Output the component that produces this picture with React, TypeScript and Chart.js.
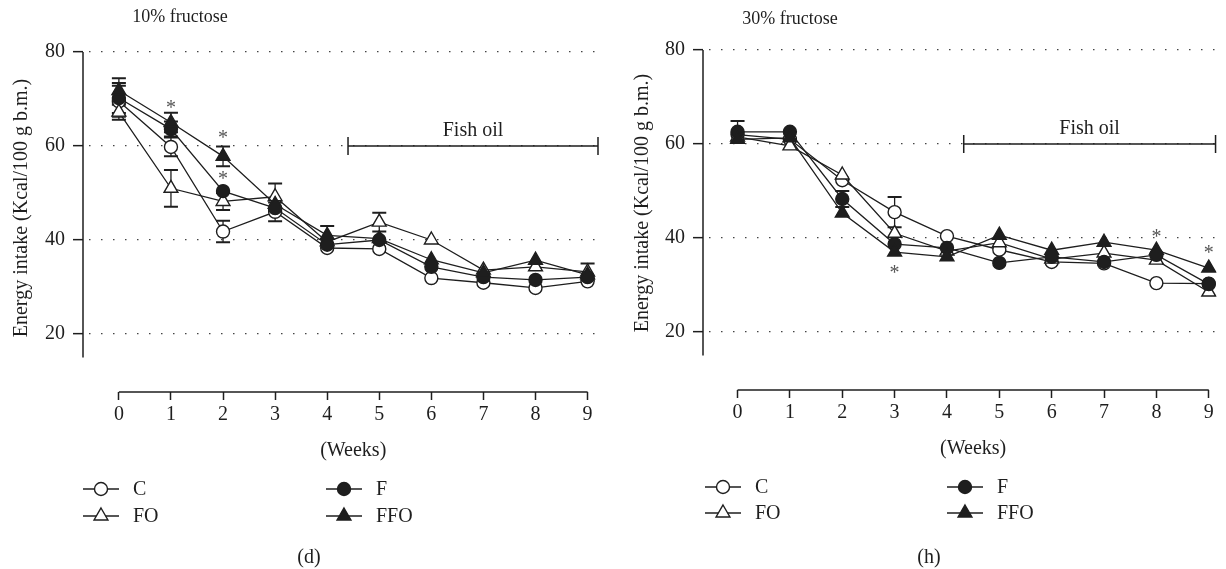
import React, { useEffect, useRef } from 'react';
import { Chart, registerables } from 'chart.js';

Chart.register(...registerables);

const FONT = '"Liberation Serif", "Times New Roman", serif';
const INK = '#1e1e1e';

// ---------- data ----------
const weeks = [0, 1, 2, 3, 4, 5, 6, 7, 8, 9];
const yTickValues = [20, 40, 60, 80];
const seriesLabels = ['C', 'FO', 'F', 'FFO'];

// (d) 10% fructose
const dC = [69.5, 59.8, 41.8, 46.0, 38.3, 38.1, 31.9, 30.9, 29.8, 31.2];
const dCErr = [3.3, 2.0, 2.3, 2.0, 0.8, 0.8, 0.6, 0.6, 0.6, 0.6];
const dFO = [67.2, 51.0, 48.2, 49.2, 39.6, 43.8, 40.0, 33.6, 34.3, 33.2];
const dFOErr = [1.6, 3.9, 1.8, 2.8, 1.0, 2.0, 1.5, 1.0, 1.0, 1.8];
const dF = [70.2, 63.6, 50.4, 46.8, 39.0, 40.0, 34.3, 32.1, 31.5, 32.1];
const dFErr = [3.2, 1.6, 1.5, 1.0, 0.8, 0.8, 0.8, 0.6, 0.6, 0.6];
const dFFO = [71.8, 65.0, 57.8, 47.6, 41.0, 40.3, 35.8, 33.0, 35.7, 32.6];
const dFFOErr = [2.6, 2.1, 2.1, 1.2, 2.0, 1.0, 1.0, 0.8, 0.8, 0.8];
const dStars = [[1, 69.1], [2, 62.8], [2, 54.0]];
const dFishOil = [4.4, 9.2];

// (h) 30% fructose
const hC = [62.0, 61.0, 52.3, 45.5, 40.4, 37.5, 34.9, 34.6, 30.4, 30.3];
const hCErr = [1.5, 1.0, 1.3, 3.2, 1.0, 1.0, 0.8, 0.8, 0.8, 0.8];
const hFO = [61.5, 59.6, 53.4, 41.0, 37.2, 39.0, 35.5, 36.8, 35.3, 28.5];
const hFOErr = [1.0, 1.0, 1.0, 1.3, 1.0, 1.0, 0.8, 0.8, 0.8, 0.8];
const hF = [62.6, 62.6, 48.3, 38.7, 37.9, 34.7, 36.0, 34.9, 36.4, 30.2];
const hFErr = [2.3, 1.0, 1.7, 1.0, 0.8, 0.8, 0.8, 0.8, 0.8, 0.8];
const hFFO = [61.0, 61.3, 45.3, 37.0, 36.0, 40.6, 37.4, 39.1, 37.4, 33.6];
const hFFOErr = [1.0, 1.0, 1.0, 1.0, 0.8, 0.8, 0.8, 0.8, 0.8, 0.8];
const hStars = [[3, 33.6], [8, 41.3], [9, 37.9]];
const hFishOil = [4.32, 9.13];

// ---------- styling ----------
const markerStyles = [
  { shape: 'circle', filled: false, order: 3 },
  { shape: 'triangle', filled: false, order: 2 },
  { shape: 'circle', filled: true, order: 1 },
  { shape: 'triangle', filled: true, order: 0 },
];

function drawMarker(ctx: CanvasRenderingContext2D, shape: string, filled: boolean, x: number, y: number) {
  ctx.beginPath();
  if (shape === 'circle') {
    ctx.arc(x, y, 6.5, 0, Math.PI * 2);
  } else {
    const r = 8;
    let a = 0;
    ctx.moveTo(x + Math.sin(a) * r, y - Math.cos(a) * r);
    a += (2 * Math.PI) / 3;
    ctx.lineTo(x + Math.sin(a) * r, y - Math.cos(a) * r);
    a += (2 * Math.PI) / 3;
    ctx.lineTo(x + Math.sin(a) * r, y - Math.cos(a) * r);
    ctx.closePath();
  }
  ctx.fillStyle = filled ? INK : '#ffffff';
  ctx.fill();
  ctx.lineWidth = 1.4;
  ctx.strokeStyle = INK;
  ctx.stroke();
}

type PanelDef = {
  title: string;
  letter: string;
  values: number[][];
  errors: number[][];
  stars: number[][];
  fishOil: number[];
  canvasLeft: number;
  canvasW: number;
  axisLeft: number;
  top: number;
  bottom: number;
  pxPerWeek: number;
  xmin: number;
  xmax: number;
  yAxisEnd: number;
  titleX: number;
  titleY: number;
  yTitleX: number;
  yTitleY: number;
  weeksY: number;
  letterX: number;
  letterY: number;
  legendX: number[];
  legendY: number[];
};

const H = 569;
const PX_PER_UNIT = 4.7;

const panels: PanelDef[] = [
  {
    title: '10% fructose',
    letter: '(d)',
    values: [dC, dFO, dF, dFFO],
    errors: [dCErr, dFOErr, dFErr, dFFOErr],
    stars: dStars,
    fishOil: dFishOil,
    canvasLeft: 0,
    canvasW: 610,
    axisLeft: 83,
    top: 52,
    bottom: 392,
    pxPerWeek: 52.22,
    xmin: -0.689,
    xmax: 9.25,
    yAxisEnd: 15,
    titleX: 180,
    titleY: 17,
    yTitleX: 22,
    yTitleY: 208,
    weeksY: 451,
    letterX: 309,
    letterY: 558,
    legendX: [101, 101, 344, 344],
    legendY: [489, 516, 489, 516],
  },
  {
    title: '30% fructose',
    letter: '(h)',
    values: [hC, hFO, hF, hFFO],
    errors: [hCErr, hFOErr, hFErr, hFFOErr],
    stars: hStars,
    fishOil: hFishOil,
    canvasLeft: 610,
    canvasW: 616,
    axisLeft: 93,
    top: 50,
    bottom: 390,
    pxPerWeek: 53,
    xmin: -0.66,
    xmax: 9.15,
    yAxisEnd: 15,
    titleX: 180,
    titleY: 19,
    yTitleX: 33,
    yTitleY: 203,
    weeksY: 449,
    letterX: 319,
    letterY: 558,
    legendX: [113, 113, 355, 355],
    legendY: [487, 513, 487, 513],
  },
];

function makeDecor(p: PanelDef) {
  return {
    id: 'decor',
    beforeDatasetsDraw(chart: any) {
      const ctx: CanvasRenderingContext2D = chart.ctx;
      const xs = chart.scales.x;
      const ys = chart.scales.y;
      const unit = ys.getPixelForValue(0) - ys.getPixelForValue(1);
      ctx.save();
      ctx.strokeStyle = INK;
      p.values.forEach((vals, s) => {
        vals.forEach((v, i) => {
          const e = p.errors[s][i];
          if (e * unit < 7.5) return;
          const x = xs.getPixelForValue(weeks[i]);
          const yT = ys.getPixelForValue(v + e);
          const yB = ys.getPixelForValue(v - e);
          ctx.lineWidth = 1.3;
          ctx.beginPath();
          ctx.moveTo(x, yT);
          ctx.lineTo(x, yB);
          ctx.stroke();
          ctx.lineWidth = 2;
          ctx.beginPath();
          ctx.moveTo(x - 7, yT);
          ctx.lineTo(x + 7, yT);
          ctx.moveTo(x - 7, yB);
          ctx.lineTo(x + 7, yB);
          ctx.stroke();
        });
      });
      ctx.restore();
    },
    afterDraw(chart: any) {
      const ctx: CanvasRenderingContext2D = chart.ctx;
      const xs = chart.scales.x;
      const ys = chart.scales.y;
      const ca = chart.chartArea;
      ctx.save();
      ctx.strokeStyle = INK;
      ctx.lineWidth = 1.5;
      // axis lines
      ctx.beginPath();
      ctx.moveTo(ca.left, ys.getPixelForValue(80));
      ctx.lineTo(ca.left, ys.getPixelForValue(p.yAxisEnd));
      ctx.stroke();
      ctx.beginPath();
      ctx.moveTo(xs.getPixelForValue(weeks[0]), xs.top);
      ctx.lineTo(xs.getPixelForValue(weeks[weeks.length - 1]), xs.top);
      ctx.stroke();

      // fish oil bracket
      const fy = ys.getPixelForValue(60);
      const fx1 = xs.getPixelForValue(p.fishOil[0]);
      const fx2 = xs.getPixelForValue(p.fishOil[1]);
      ctx.beginPath();
      ctx.moveTo(fx1, fy);
      ctx.lineTo(fx2, fy);
      ctx.moveTo(fx1, fy - 9);
      ctx.lineTo(fx1, fy + 9);
      ctx.moveTo(fx2, fy - 9);
      ctx.lineTo(fx2, fy + 9);
      ctx.stroke();

      ctx.fillStyle = INK;
      ctx.textAlign = 'center';
      ctx.textBaseline = 'middle';
      ctx.font = `20px ${FONT}`;
      ctx.fillText('Fish oil', (fx1 + fx2) / 2, fy - 15);

      // asterisks
      ctx.fillStyle = '#555';
      ctx.textBaseline = 'alphabetic';
      p.stars.forEach(([w, v]) => {
        ctx.fillText('*', xs.getPixelForValue(w), ys.getPixelForValue(v) + 11);
      });

      // titles
      ctx.fillStyle = INK;
      ctx.textBaseline = 'middle';
      ctx.font = `18px ${FONT}`;
      ctx.fillText(p.title, p.titleX, p.titleY);
      ctx.font = `20px ${FONT}`;
      ctx.fillText('(Weeks)', (xs.getPixelForValue(0) + xs.getPixelForValue(9)) / 2, p.weeksY);
      ctx.fillText(p.letter, p.letterX, p.letterY);

      ctx.save();
      ctx.translate(p.yTitleX, p.yTitleY);
      ctx.rotate(-Math.PI / 2);
      ctx.fillText('Energy intake (Kcal/100 g b.m.)', 0, 0);
      ctx.restore();

      // legend
      seriesLabels.forEach((lab, i) => {
        const x = p.legendX[i];
        const y = p.legendY[i];
        ctx.strokeStyle = INK;
        ctx.lineWidth = 1.3;
        ctx.beginPath();
        ctx.moveTo(x - 18, y);
        ctx.lineTo(x + 18, y);
        ctx.stroke();
        drawMarker(ctx, markerStyles[i].shape, markerStyles[i].filled, x, y);
        ctx.fillStyle = INK;
        ctx.textAlign = 'left';
        ctx.font = `20px ${FONT}`;
        ctx.fillText(lab, x + 32, y + 1);
      });
      ctx.restore();
    },
  };
}

function buildConfig(p: PanelDef): any {
  const ymin = 80 - (p.bottom - p.top) / PX_PER_UNIT;
  const areaW = (p.xmax - p.xmin) * p.pxPerWeek;
  const padRight = Math.max(0, p.canvasW - p.axisLeft - areaW);
  const datasets = p.values.map((vals, s) => ({
    label: seriesLabels[s],
    data: vals.map((v, i) => ({ x: weeks[i], y: v })),
    borderColor: INK,
    borderWidth: 1.3,
    pointStyle: markerStyles[s].shape,
    pointRadius: markerStyles[s].shape === 'triangle' ? 8 : 6.5,
    pointBackgroundColor: markerStyles[s].filled ? INK : '#ffffff',
    pointBorderColor: INK,
    pointBorderWidth: 1.4,
    tension: 0,
    fill: false,
    order: markerStyles[s].order,
  }));
  return {
    type: 'line',
    data: { datasets },
    options: {
      animation: false,
      responsive: false,
      maintainAspectRatio: false,
      events: [],
      layout: { padding: { top: p.top, right: padRight, bottom: 0, left: 0 } },
      plugins: { legend: { display: false }, tooltip: { enabled: false }, title: { display: false } },
      scales: {
        x: {
          type: 'linear',
          min: p.xmin,
          max: p.xmax,
          afterBuildTicks: (s: any) => {
            s.ticks = weeks.map((v) => ({ value: v }));
          },
          afterFit: (s: any) => {
            s.height = H - p.bottom;
          },
          ticks: {
            font: { family: FONT, size: 20 },
            color: INK,
            padding: 3,
            maxRotation: 0,
            autoSkip: false,
            callback: (v: any) => String(v),
          },
          grid: { drawOnChartArea: false, drawTicks: true, tickLength: 8, tickColor: INK, tickWidth: 1.5, tickBorderDash: [] },
          border: { display: false },
        },
        y: {
          type: 'linear',
          min: ymin,
          max: 80,
          afterBuildTicks: (s: any) => {
            s.ticks = yTickValues.map((v) => ({ value: v }));
          },
          afterFit: (s: any) => {
            s.width = p.axisLeft;
          },
          ticks: {
            font: { family: FONT, size: 20 },
            color: INK,
            padding: 8,
            callback: (v: any) => String(v),
          },
          grid: {
            color: '#444',
            lineWidth: 1.3,
            drawTicks: true,
            tickLength: 10,
            tickColor: INK,
            tickWidth: 1.5,
            tickBorderDash: [],
          },
          border: { display: false, dash: [1.5, 10.5], dashOffset: -6 },
        },
      },
    },
    plugins: [makeDecor(p)],
  };
}

function Panel({ p }: { p: PanelDef }) {
  const ref = useRef<HTMLCanvasElement>(null);
  useEffect(() => {
    const chart = new Chart(ref.current as HTMLCanvasElement, buildConfig(p));
    return () => chart.destroy();
  }, [p]);
  return (
    <canvas
      ref={ref}
      width={p.canvasW}
      height={H}
      style={{ position: 'absolute', left: p.canvasLeft, top: 0, width: p.canvasW, height: H }}
    />
  );
}

export default function App() {
  return (
    <div style={{ position: 'fixed', left: 0, top: 0, width: 1226, height: H, background: '#fff' }}>
      {panels.map((p) => (
        <Panel key={p.letter} p={p} />
      ))}
    </div>
  );
}
